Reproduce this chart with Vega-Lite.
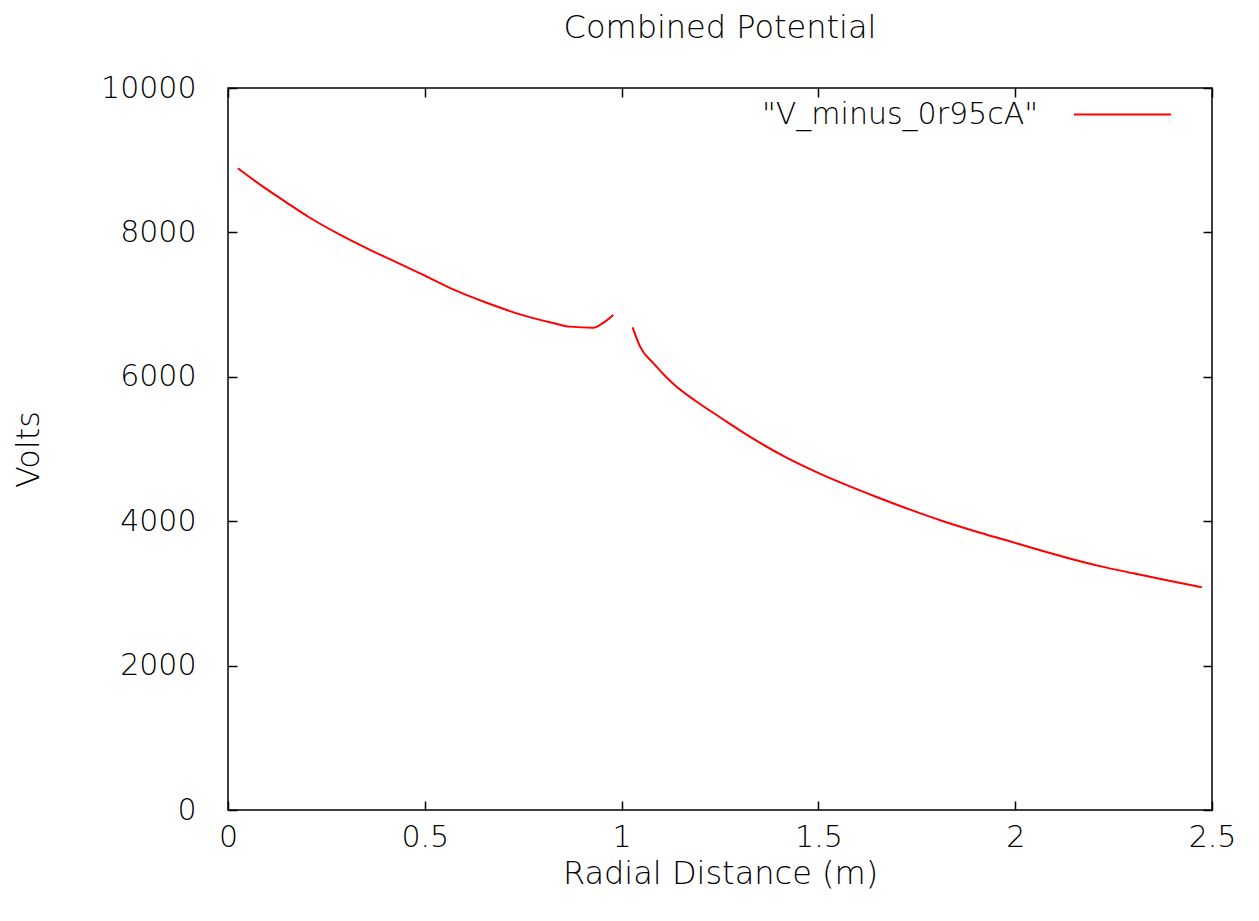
{
  "$schema": "https://vega.github.io/schema/vega-lite/v6.json",
  "width": 984,
  "height": 722,
  "autosize": "none",
  "padding": {"left": 228, "top": 88, "right": 47, "bottom": 111},
  "background": "white",
  "config": {
    "font": "DejaVu Sans",
    "view": {"stroke": "#000", "strokeWidth": 1.5},
    "axis": {
      "domain": false,
      "grid": false,
      "tickSize": -9,
      "tickColor": "#000",
      "tickWidth": 1.5,
      "labelFontSize": 30,
      "labelColor": "#000",
      "labelFont": "DejaVu Sans",
      "labelFontWeight": 300,
      "labelFlush": false,
      "titleFontSize": 32,
      "titleFont": "DejaVu Sans",
      "titleFontWeight": 300,
      "titleColor": "#000"
    }
  },
  "title": {
    "text": "Combined Potential",
    "fontSize": 32,
    "font": "DejaVu Sans",
    "fontWeight": 300,
    "color": "#000",
    "offset": 20,
    "anchor": "middle"
  },
  "data": {
    "values": [
      {"r": 0.025, "v": 8888, "seg": "a", "series": "\"V_minus_0r95cA\""},
      {"r": 0.087, "v": 8640, "seg": "a", "series": "\"V_minus_0r95cA\""},
      {"r": 0.147, "v": 8420, "seg": "a", "series": "\"V_minus_0r95cA\""},
      {"r": 0.206, "v": 8210, "seg": "a", "series": "\"V_minus_0r95cA\""},
      {"r": 0.282, "v": 7975, "seg": "a", "series": "\"V_minus_0r95cA\""},
      {"r": 0.358, "v": 7765, "seg": "a", "series": "\"V_minus_0r95cA\""},
      {"r": 0.434, "v": 7572, "seg": "a", "series": "\"V_minus_0r95cA\""},
      {"r": 0.5, "v": 7400, "seg": "a", "series": "\"V_minus_0r95cA\""},
      {"r": 0.572, "v": 7210, "seg": "a", "series": "\"V_minus_0r95cA\""},
      {"r": 0.657, "v": 7025, "seg": "a", "series": "\"V_minus_0r95cA\""},
      {"r": 0.742, "v": 6865, "seg": "a", "series": "\"V_minus_0r95cA\""},
      {"r": 0.826, "v": 6745, "seg": "a", "series": "\"V_minus_0r95cA\""},
      {"r": 0.869, "v": 6695, "seg": "a", "series": "\"V_minus_0r95cA\""},
      {"r": 0.928, "v": 6680, "seg": "a", "series": "\"V_minus_0r95cA\""},
      {"r": 0.954, "v": 6750, "seg": "a", "series": "\"V_minus_0r95cA\""},
      {"r": 0.979, "v": 6856, "seg": "a", "series": "\"V_minus_0r95cA\""},
      {"r": 1.028, "v": 6685, "seg": "b", "series": "\"V_minus_0r95cA\""},
      {"r": 1.047, "v": 6417, "seg": "b", "series": "\"V_minus_0r95cA\""},
      {"r": 1.081, "v": 6187, "seg": "b", "series": "\"V_minus_0r95cA\""},
      {"r": 1.131, "v": 5905, "seg": "b", "series": "\"V_minus_0r95cA\""},
      {"r": 1.191, "v": 5655, "seg": "b", "series": "\"V_minus_0r95cA\""},
      {"r": 1.25, "v": 5440, "seg": "b", "series": "\"V_minus_0r95cA\""},
      {"r": 1.335, "v": 5140, "seg": "b", "series": "\"V_minus_0r95cA\""},
      {"r": 1.419, "v": 4880, "seg": "b", "series": "\"V_minus_0r95cA\""},
      {"r": 1.502, "v": 4663, "seg": "b", "series": "\"V_minus_0r95cA\""},
      {"r": 1.563, "v": 4520, "seg": "b", "series": "\"V_minus_0r95cA\""},
      {"r": 1.648, "v": 4335, "seg": "b", "series": "\"V_minus_0r95cA\""},
      {"r": 1.733, "v": 4160, "seg": "b", "series": "\"V_minus_0r95cA\""},
      {"r": 1.817, "v": 4000, "seg": "b", "series": "\"V_minus_0r95cA\""},
      {"r": 1.902, "v": 3855, "seg": "b", "series": "\"V_minus_0r95cA\""},
      {"r": 1.984, "v": 3725, "seg": "b", "series": "\"V_minus_0r95cA\""},
      {"r": 2.046, "v": 3625, "seg": "b", "series": "\"V_minus_0r95cA\""},
      {"r": 2.131, "v": 3495, "seg": "b", "series": "\"V_minus_0r95cA\""},
      {"r": 2.215, "v": 3378, "seg": "b", "series": "\"V_minus_0r95cA\""},
      {"r": 2.3, "v": 3278, "seg": "b", "series": "\"V_minus_0r95cA\""},
      {"r": 2.385, "v": 3182, "seg": "b", "series": "\"V_minus_0r95cA\""},
      {"r": 2.474, "v": 3085, "seg": "b", "series": "\"V_minus_0r95cA\""}
    ]
  },
  "layer": [
    {
      "mark": {"type": "line", "strokeWidth": 2, "interpolate": "monotone"},
      "encoding": {
        "x": {
          "field": "r",
          "type": "quantitative",
          "scale": {"domain": [0, 2.5], "nice": false, "zero": false},
          "axis": {"orient": "bottom", "title": "Radial Distance (m)", "values": [0, 0.5, 1, 1.5, 2, 2.5], "format": "~g", "labelPadding": 21, "titlePadding": 6}
        },
        "y": {
          "field": "v",
          "type": "quantitative",
          "scale": {"domain": [0, 10000], "nice": false},
          "axis": {"orient": "left", "title": "Volts", "values": [0, 2000, 4000, 6000, 8000, 10000], "format": "d", "labelPadding": 41, "titlePadding": 55}
        },
        "color": {
          "field": "series",
          "type": "nominal",
          "scale": {"range": ["#ff0000"]},
          "legend": {
            "title": null,
            "orient": "none",
            "legendX": 845,
            "legendY": -23,
            "padding": 0,
            "symbolType": "stroke",
            "symbolSize": 9409,
            "symbolStrokeWidth": 2,
            "labelFontSize": 30,
            "labelFont": "DejaVu Sans",
            "labelFontWeight": 300,
            "labelColor": "#000",
            "labelAlign": "right",
            "labelOffset": -134,
            "labelLimit": 600
          }
        },
        "detail": {"field": "seg", "type": "nominal"}
      }
    },
    {
      "mark": {"type": "line", "opacity": 0},
      "encoding": {
        "x": {
          "field": "r",
          "type": "quantitative",
          "axis": {"orient": "top", "title": null, "labels": false, "values": [0, 0.5, 1, 1.5, 2, 2.5]}
        },
        "y": {
          "field": "v",
          "type": "quantitative",
          "axis": {"orient": "right", "title": null, "labels": false, "values": [0, 2000, 4000, 6000, 8000, 10000]}
        }
      }
    }
  ]
}
